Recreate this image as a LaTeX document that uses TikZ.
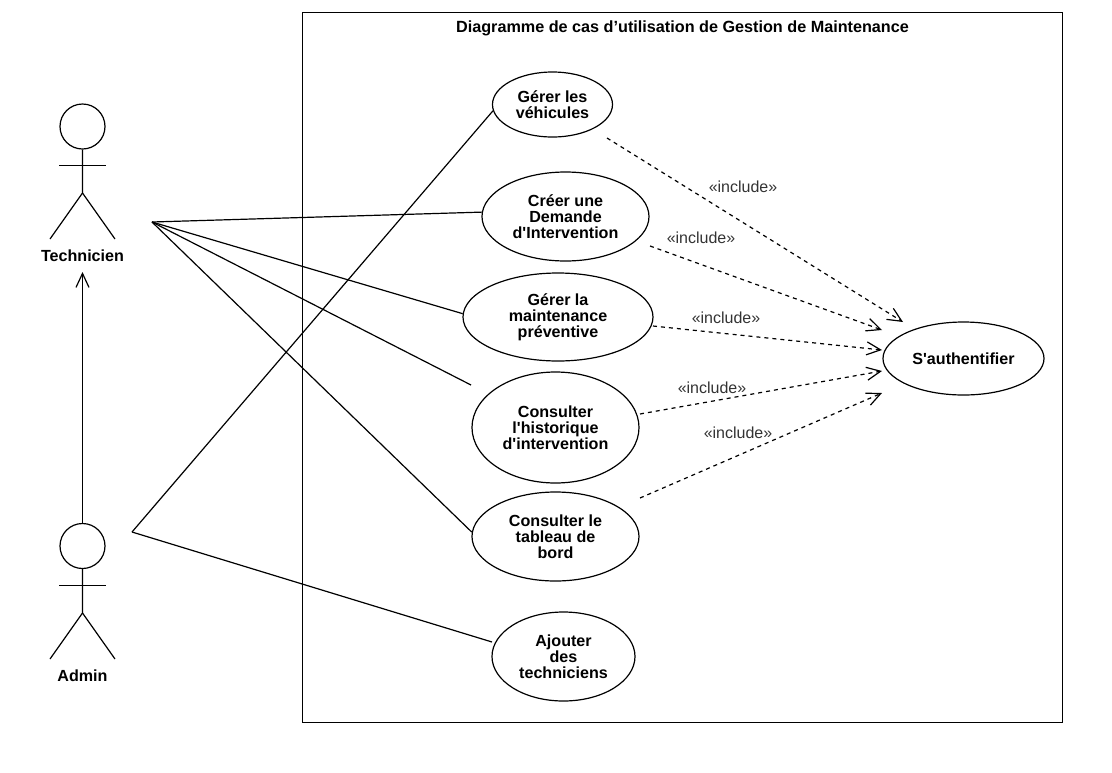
\documentclass[tikz,border=0pt]{standalone}
\usepackage{fontspec}
\setmainfont{Liberation Sans}
\usetikzlibrary{arrows.meta}
\usetikzlibrary{shapes.geometric}
\usetikzlibrary{positioning}
\tikzset{usecase/.style={draw=black, ellipse, inner sep=0pt, align=center, font=\fontsize{16.1}{16}\selectfont\bfseries}}
\tikzset{head/.style={draw=black, circle, inner sep=0pt, minimum size=45pt}}
\tikzset{actorname/.style={font=\fontsize{16.1}{16}\selectfont\bfseries, inner sep=0pt}}
\tikzset{openhead/.style={-{Straight Barb[length=14pt,width=13pt]}}}
\tikzset{incl/.style={openhead, dashed, dash pattern=on 4pt off 4pt}}
\tikzset{incllabel/.style={font=\fontsize{16}{16}\selectfont, text=black!80, inner sep=0pt}}

\begin{document}
\begin{tikzpicture}[x=1pt, y=-1pt, line width=1.2pt]
		\useasboundingbox (0,0) rectangle (1112,772);
		\node[draw=black, minimum width=760pt, minimum height=710pt, inner sep=0pt] (frame) at (682.5,367.5) {};
		\node[font=\fontsize{16.2}{16}\selectfont\bfseries, inner sep=0pt] (title) at (682.5,28.7) {Diagramme de cas d’utilisation de Gestion de Maintenance};
		
		% actors
		\node[head] (headT) at (82.5,126.5) {};
		\coordinate (hipT) at (82.5,193);
		\coordinate (legTl) at (50,239);
		\coordinate (legTr) at (115,239);
		\coordinate (armTl) at (59,165.5);
		\coordinate (armTr) at (106,165.5);
		\node[actorname] (technicien) at (82.5,255.7) {Technicien};
		\node[head] (headA) at (82.5,546) {};
		\coordinate (hipA) at (82.5,613);
		\coordinate (legAl) at (50,659);
		\coordinate (legAr) at (115,659);
		\coordinate (armAl) at (59,585.5);
		\coordinate (armAr) at (106,585.5);
		\node[actorname] (admin) at (82.5,675.7) {Admin};
		\draw (headT) -- (hipT) -- (legTl);
		\draw (hipT) -- (legTr);
		\draw (armTl) -- (armTr);
		\draw (headA) -- (hipA) -- (legAl);
		\draw (hipA) -- (legAr);
		\draw (armAl) -- (armAr);
		
		% use cases
		\node[usecase, minimum width=120pt, minimum height=65pt] (vehicules) at (552.5,104.5) {Gérer les\\véhicules};
		\node[usecase, minimum width=167pt, minimum height=89pt] (demande) at (565.5,216.5) {Créer une\\Demande\\d\textquotesingle Intervention};
		\node[usecase, minimum width=190pt, minimum height=88pt] (preventive) at (558,317) {Gérer la\\maintenance\\préventive};
		\node[usecase, minimum width=167pt, minimum height=111pt] (historique) at (555.5,427.5) {Consulter\\l\textquotesingle historique\\d\textquotesingle intervention};
		\node[usecase, minimum width=167pt, minimum height=89pt] (tableau) at (555.5,536.5) {Consulter le\\tableau de\\bord};
		\node[usecase, minimum width=143pt, minimum height=89pt] (ajouter) at (563.5,656.5) {Ajouter\\des\\techniciens};
		\node[usecase, minimum width=161pt, minimum height=73pt] (auth) at (963.5,358.5) {S\textquotesingle authentifier};
		
		% free ends
		\coordinate (fromT) at (152,222);
		\coordinate (fromA) at (132,532);
		\coordinate (toHist) at (471,385);
		\coordinate (toAjout) at (492,642);
		\coordinate (s1) at (607,138);
		\coordinate (s2) at (650,246);
		\coordinate (s3) at (653,326);
		\coordinate (s4) at (640,414);
		\coordinate (s5) at (640,498);
		\coordinate (e1) at (903,322);
		\coordinate (e2) at (882,330);
		\coordinate (e3) at (882,350);
		\coordinate (e4) at (882,371);
		\coordinate (e5) at (882,393);
		
		\draw (fromT) -- (demande.177);
		\draw (fromT) -- (preventive.178);
		\draw (fromT) -- (toHist);
		\draw (fromT) -- (tableau.177);
		\draw (fromA) -- (vehicules.186);
		\draw (fromA) -- (toAjout);
		\draw[openhead] (headA) -- (technicien.south |- 0,272);
		
		\draw[incl] (s1) -- (e1);
		\draw[incl] (s2) -- (e2);
		\draw[incl] (s3) -- (e3);
		\draw[incl] (s4) -- (e4);
		\draw[incl] (s5) -- (e5);
		\node[incllabel] (l1) at (743,186.7) {«include»};
		\node[incllabel] (l2) at (701,237.7) {«include»};
		\node[incllabel] (l3) at (726,317.7) {«include»};
		\node[incllabel] (l4) at (712,387.7) {«include»};
		\node[incllabel] (l5) at (738,432.7) {«include»};
	\end{tikzpicture}
\end{document}
